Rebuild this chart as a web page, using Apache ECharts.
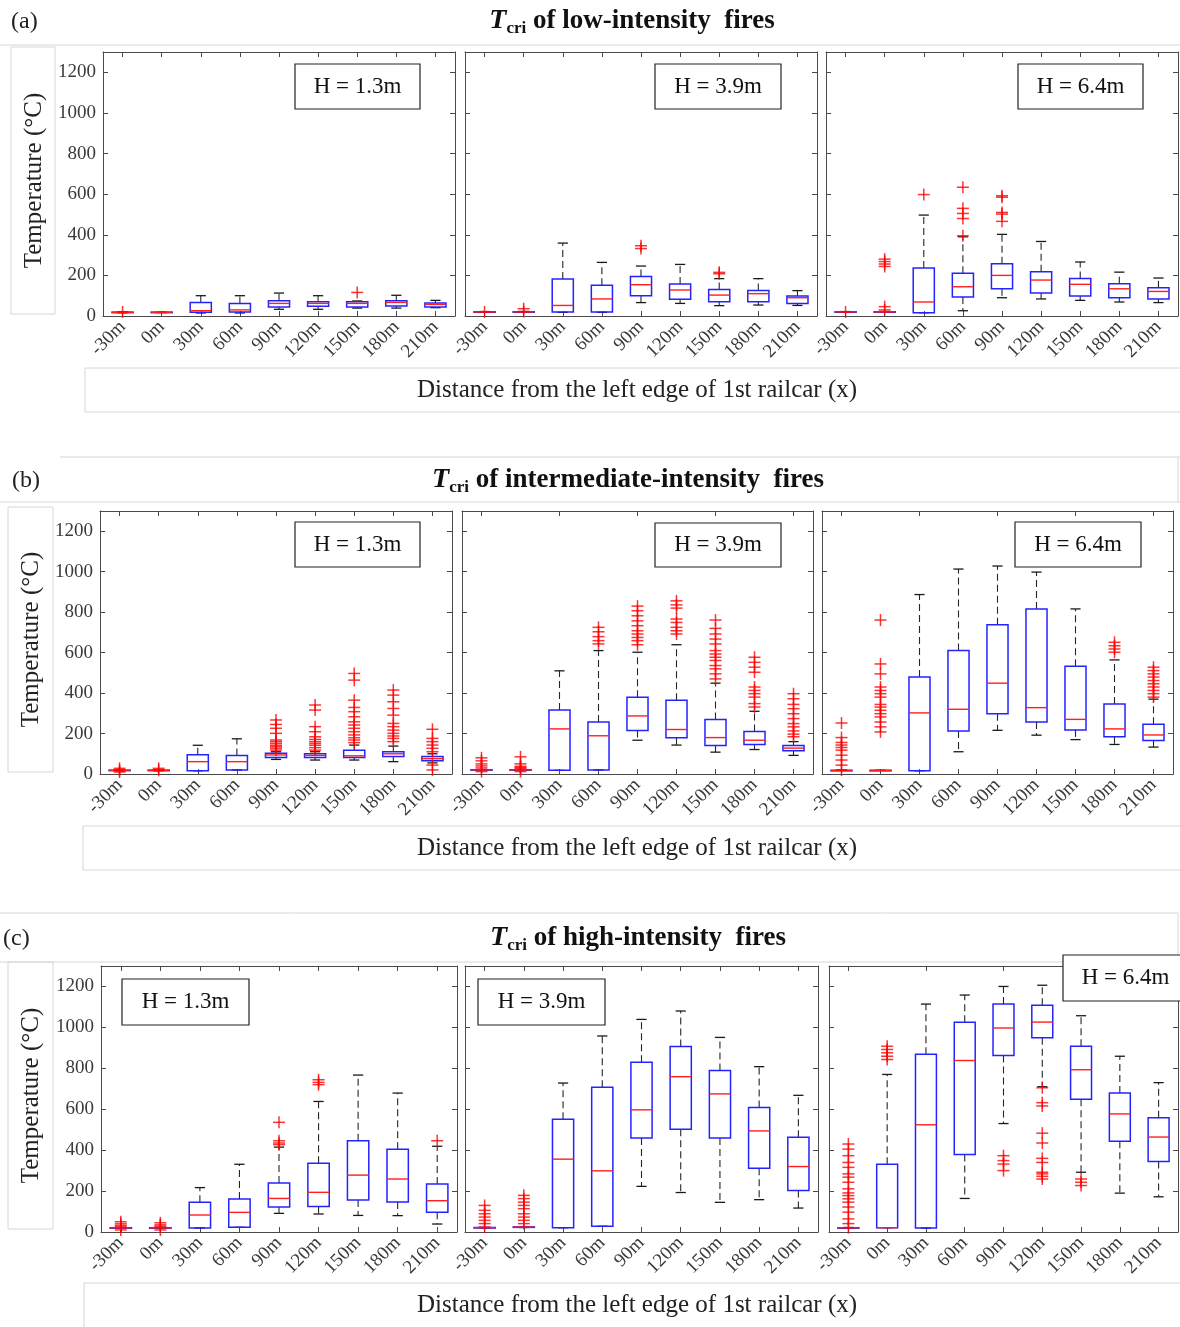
<!DOCTYPE html>
<html>
<head>
<meta charset="utf-8">
<script src="https://cdn.jsdelivr.net/npm/echarts@6/dist/echarts.min.js"></script>
<style>
  html, body { margin: 0; padding: 0; background: #fff; }
  #chart { width: 1180px; height: 1327px; }
</style>
</head>
<body>
<div id="chart"></div>
<script>
// Measuring positions along the train
const distances = ['-30m', '0m', '30m', '60m', '90m', '120m', '150m', '180m', '210m'];
const heightLabels = ['H = 1.3m', 'H = 3.9m', 'H = 6.4m'];
const rowTitles = ['low-intensity', 'intermediate-intensity', 'high-intensity'];
const rowLetters = ['(a)', '(b)', '(c)'];
const yTickValues = [0, 200, 400, 600, 800, 1000, 1200];

// Each entry: [lower whisker, Q1, median, Q3, upper whisker] in °C, one per distance
const lowH13 = [[16,17,18,19,20],[17,18,18,19,19],[15,18,26,67,100],[15,20,30,62,100],[33,44,62,75,113],[33,48,62,70,100],[39,44,62,70,74],[39,49,67,75,102],[41,44,57,64,77]];
const lowH39 = [[18,19,20,21,22],[18,19,20,21,22],[18,20,52,182,359],[18,20,84,152,264],[66,100,154,195,246],[62,82,128,157,254],[51,70,103,130,184],[54,70,110,125,184],[52,61,90,98,125]];
const lowH64 = [[18,19,20,21,22],[18,19,20,21,22],[16,16,69,236,497],[26,93,144,211,390],[90,134,200,257,402],[84,113,177,218,367],[77,98,156,185,266],[69,90,134,159,216],[66,84,121,139,187]];
const midH13 = [[16,17,18,19,20],[16,17,18,19,20],[16,16,61,95,142],[20,20,61,92,174],[72,81,94,102,110],[69,81,92,100,110],[69,82,90,118,143],[61,86,100,110,138],[55,66,76,86,100]];
const midH39 = [[18,19,20,21,22],[18,19,20,21,22],[18,18,223,316,510],[20,20,189,257,610],[167,215,287,379,602],[143,179,220,364,639],[108,141,180,269,449],[121,146,167,210,310],[92,115,128,141,160]];
const midH64 = [[18,18,18,18,18],[18,18,18,18,18],[16,16,302,479,887],[110,213,320,610,1013],[216,298,449,738,1028],[192,257,328,816,998],[170,218,270,533,816],[146,184,223,346,564],[133,166,193,246,370]];
const highH13 = [[18,19,20,21,22],[18,19,20,21,22],[20,20,83,145,217],[23,23,96,161,331],[91,122,164,239,415],[88,125,194,336,638],[81,156,278,446,767],[80,147,259,404,679],[39,96,153,235,419]];
const highH39 = [[20,21,21,22,22],[22,23,24,25,26],[21,21,356,551,728],[28,28,299,707,958],[223,460,597,829,1039],[193,502,759,907,1080],[145,460,675,789,951],[158,311,494,608,808],[117,203,320,463,668]];
const highH64 = [[20,21,21,21,22],[21,21,21,331,770],[19,19,524,869,1114],[164,379,838,1025,1158],[530,863,997,1114,1200],[710,949,1026,1108,1206],[292,649,793,908,1057],[190,444,577,679,859],[172,344,464,558,730]];

// Outliers (°C), one list per distance
const lowH13Out = [[20],[],[],[],[],[],[116],[],[]];
const lowH39Out = [[20],[36,22],[],[],[346,332],[],[215,208],[],[]];
const lowH64Out = [[20],[280,268,256,244,46,30],[598],[634,530,505,480,395],[592,585,510,502,466],[],[],[],[]];
const midH13Out = [[28,18,10],[28,18],[],[],[267,245,226,201,168,160,151,142,135,127,118],[341,316,234,209,184,171,160,151,142,130,118],[497,464,365,329,308,283,258,242,226,209,193,179,168,155],[415,390,357,324,291,250,234,217,201,188,176,160],[221,176,160,143,127,110,44,20]];
const midH39Out = [[80,65,50,40,30,12],[85,50,38,32,28,12],[],[725,703,679,659,643],[830,807,782,757,733,708,692,675,659,639],[856,836,820,766,749,725,708,692],[761,720,692,667,643,610,593,577,561,536,520,495,470],[577,552,528,503,430,413,397,380,348,331],[397,372,344,323,298,274,249,233,213,197,184]];
const midH64Out = [[252,180,156,143,131,118,93,69,44,20],[761,544,495,430,413,397,380,344,331,315,298,282,257,233,208],[],[],[],[],[],[651,634,618,602],[528,511,495,479,462,446,430,413,397,380]];
const highH13Out = [[50,40,32,25,10],[45,35,28,10],[],[],[536,446,435,427],[744,731,720],[],[],[446]];
const highH39Out = [[130,106,89,73,57,41,24],[179,163,146,130,114,89,73,57,41],[],[],[],[],[],[],[]];
const highH64Out = [[430,405,373,340,316,284,268,243,211,191,178,162,146,122,97,64,41,21],[908,892,876,859,843],[],[],[373,349,332,300],[705,632,616,483,435,360,340,292,284,272,259],[259,243,227],[],[]];

const boxRows = [[lowH13, lowH39, lowH64], [midH13, midH39, midH64], [highH13, highH39, highH64]];
const outRows = [[lowH13Out, lowH39Out, lowH64Out], [midH13Out, midH39Out, midH64Out], [highH13Out, highH39Out, highH64Out]];

// Plot frames [left, top, width, height] for each row / height panel
const frames = [
  [[103, 52, 352, 264], [465, 52, 352, 264], [826, 52, 352, 264]],
  [[100, 511, 352, 263], [462, 511, 351, 263], [822, 511, 351, 263]],
  [[101, 966, 356, 266], [465, 966, 353, 266], [829, 966, 349, 266]]
];
// Where the height tag sits in each panel [x, y, w, h]
const tagBoxes = [
  [[295, 64, 125, 45], [655, 64, 126, 45], [1018, 64, 125, 45]],
  [[295, 522, 125, 45], [655, 523, 126, 44], [1015, 522, 126, 45]],
  [[122, 979, 127, 46], [478, 979, 127, 46], [1063, 955, 125, 46]]
];

const SERIF = '"Liberation Serif", "DejaVu Serif", serif';
const AXIS_COLOR = '#4a4a4a';

function renderBox(params, api) {
  const i = api.value(0);
  const x = api.coord([i, 0])[0];
  const yLo = api.coord([i, api.value(1)])[1];
  const yQ1 = api.coord([i, api.value(2)])[1];
  const yMed = api.coord([i, api.value(3)])[1];
  const yQ3 = api.coord([i, api.value(4)])[1];
  const yHi = api.coord([i, api.value(5)])[1];
  const band = api.size([1, 0])[0];
  const hw = band * 0.27;
  const cw = band * 0.13;
  const dash = { stroke: '#262626', lineWidth: 1.1, lineDash: [7, 4] };
  const cap = { stroke: '#1a1a1a', lineWidth: 1.3 };
  return {
    type: 'group',
    children: [
      { type: 'line', shape: { x1: x, y1: yQ3, x2: x, y2: yHi }, style: dash },
      { type: 'line', shape: { x1: x, y1: yQ1, x2: x, y2: yLo }, style: dash },
      { type: 'line', shape: { x1: x - cw, y1: yHi, x2: x + cw, y2: yHi }, style: cap },
      { type: 'line', shape: { x1: x - cw, y1: yLo, x2: x + cw, y2: yLo }, style: cap },
      { type: 'rect', shape: { x: x - hw, y: yQ3, width: 2 * hw, height: Math.max(yQ1 - yQ3, 0.5) },
        style: { fill: 'none', stroke: '#2323ff', lineWidth: 1.5 } },
      { type: 'line', shape: { x1: x - hw, y1: yMed, x2: x + hw, y2: yMed },
        style: { stroke: '#ff1f1f', lineWidth: 1.4 } }
    ]
  };
}

function renderPlus(params, api) {
  const p = api.coord([api.value(0), api.value(1)]);
  const s = 6;
  const st = { stroke: 'rgba(255,0,0,0.8)', lineWidth: 1.5 };
  return {
    type: 'group',
    children: [
      { type: 'line', shape: { x1: p[0] - s, y1: p[1], x2: p[0] + s, y2: p[1] }, style: st },
      { type: 'line', shape: { x1: p[0], y1: p[1] - s, x2: p[0], y2: p[1] + s }, style: st }
    ]
  };
}

const grid = [], xAxis = [], yAxis = [], series = [], graphic = [];

for (let r = 0; r < 3; r++) {
  for (let c = 0; c < 3; c++) {
    const g = grid.length;
    const f = frames[r][c];
    grid.push({ left: f[0], top: f[1], width: f[2], height: f[3], containLabel: false });
    const tick = { show: true, inside: true, length: 5, alignWithLabel: true, lineStyle: { color: AXIS_COLOR } };
    const line = { show: true, onZero: false, lineStyle: { color: AXIS_COLOR, width: 1 } };
    xAxis.push({
      type: 'category', gridIndex: g, data: distances, boundaryGap: true, position: 'bottom',
      axisLine: line, axisTick: tick,
      axisLabel: { rotate: 45, fontFamily: SERIF, fontSize: 19, color: '#3a3a3a', margin: 8, interval: 0 }
    });
    xAxis.push({
      type: 'category', gridIndex: g, data: distances, boundaryGap: true, position: 'top',
      axisLine: line, axisTick: tick, axisLabel: { show: false }
    });
    const yBase = { type: 'value', gridIndex: g, min: 0, max: 1300, interval: 200, splitLine: { show: false },
      axisLine: line, axisTick: { show: true, inside: true, length: 5, lineStyle: { color: AXIS_COLOR } } };
    yAxis.push(Object.assign({}, yBase, {
      position: 'left',
      axisLabel: { show: c === 0, showMaxLabel: false, fontFamily: SERIF, fontSize: 19, color: '#3a3a3a', margin: 7,
        formatter: v => (yTickValues.indexOf(v) >= 0 ? String(v) : '') }
    }));
    yAxis.push(Object.assign({}, yBase, { position: 'right', axisLabel: { show: false } }));

    const xi = g * 2, yi = g * 2;
    series.push({
      type: 'custom', xAxisIndex: xi, yAxisIndex: yi, renderItem: renderBox,
      encode: { x: 0, y: [1, 2, 3, 4, 5] },
      data: boxRows[r][c].map((b, i) => [i].concat(b)), z: 2, silent: true
    });
    const pts = [];
    outRows[r][c].forEach((list, i) => list.forEach(v => pts.push([i, v])));
    series.push({
      type: 'custom', xAxisIndex: xi, yAxisIndex: yi, renderItem: renderPlus,
      encode: { x: 0, y: 1 }, data: pts, z: 3, silent: true
    });

    const t = tagBoxes[r][c];
    graphic.push({ type: 'rect', z: 100, shape: { x: t[0], y: t[1], width: t[2], height: t[3] },
      style: { fill: '#fff', stroke: '#222', lineWidth: 1.2 } });
    graphic.push({ type: 'text', z: 101, x: t[0] + t[2] / 2, y: t[1] + t[3] / 2,
      style: { text: heightLabels[c], font: '23px ' + SERIF, fill: '#111', align: 'center', verticalAlign: 'middle' } });
  }
}

// Light frames around titles and axis captions
const FRAME = '#d6d6d6';
const frameLines = [
  [0, 45, 1180, 45],
  [60, 457, 1180, 457], [1178, 457, 1178, 502], [0, 502, 1180, 502],
  [0, 913, 1178, 913], [1178, 913, 1178, 962], [0, 962, 1180, 962]
];
frameLines.forEach(l => graphic.push({ type: 'line', z: 0, shape: { x1: l[0], y1: l[1], x2: l[2], y2: l[3] },
  style: { stroke: FRAME, lineWidth: 1 } }));

const yCapBoxes = [[11, 47, 44, 267], [8, 507, 45, 265], [8, 962, 45, 267]];
const xCapBoxes = [[85, 368, 1100, 44], [83, 826, 1102, 44], [84, 1283, 1101, 50]];
const titleY = [21, 480, 938];
const titleX = [632, 628, 638];
const letterPos = [[11, 22], [12, 481], [3, 939]];

for (let r = 0; r < 3; r++) {
  const yb = yCapBoxes[r];
  graphic.push({ type: 'rect', z: 0, shape: { x: yb[0], y: yb[1], width: yb[2], height: yb[3] },
    style: { fill: 'none', stroke: FRAME, lineWidth: 1 } });
  graphic.push({ type: 'text', z: 1, x: yb[0] + yb[2] / 2 + 1, y: yb[1] + yb[3] / 2, rotation: Math.PI / 2,
    style: { text: 'Temperature (°C)', font: '25px ' + SERIF, fill: '#222', align: 'center', verticalAlign: 'middle' } });
  const xb = xCapBoxes[r];
  graphic.push({ type: 'rect', z: 0, shape: { x: xb[0], y: xb[1], width: xb[2], height: xb[3] },
    style: { fill: 'none', stroke: FRAME, lineWidth: 1 } });
  graphic.push({ type: 'text', z: 1, x: 637, y: xb[1] + 22,
    style: { text: 'Distance from the left edge of 1st railcar (x)', font: '25px ' + SERIF, fill: '#222',
      align: 'center', verticalAlign: 'middle' } });
  graphic.push({ type: 'text', z: 1, x: letterPos[r][0], y: letterPos[r][1],
    style: { text: rowLetters[r], font: '24px ' + SERIF, fill: '#222', align: 'left', verticalAlign: 'middle' } });
  graphic.push({ type: 'text', z: 1, x: titleX[r], y: titleY[r],
    style: {
      text: '{t|T}{s|cri}{n| of ' + rowTitles[r] + '  fires}',
      align: 'center', verticalAlign: 'middle',
      rich: {
        t: { fontFamily: SERIF, fontSize: 28, fontStyle: 'italic', fontWeight: 'bold', fill: '#111', lineHeight: 32, verticalAlign: 'middle' },
        s: { fontFamily: SERIF, fontSize: 17, fontWeight: 'bold', fill: '#111', lineHeight: 32, verticalAlign: 'bottom' },
        n: { fontFamily: SERIF, fontSize: 27, fontWeight: 'bold', fill: '#111', lineHeight: 32, verticalAlign: 'middle' }
      }
    } });
}

const chart = echarts.init(document.getElementById('chart'), null, { renderer: 'canvas' });
chart.setOption({
  backgroundColor: '#fff',
  animation: false,
  grid, xAxis, yAxis, series, graphic
});
</script>
</body>
</html>
